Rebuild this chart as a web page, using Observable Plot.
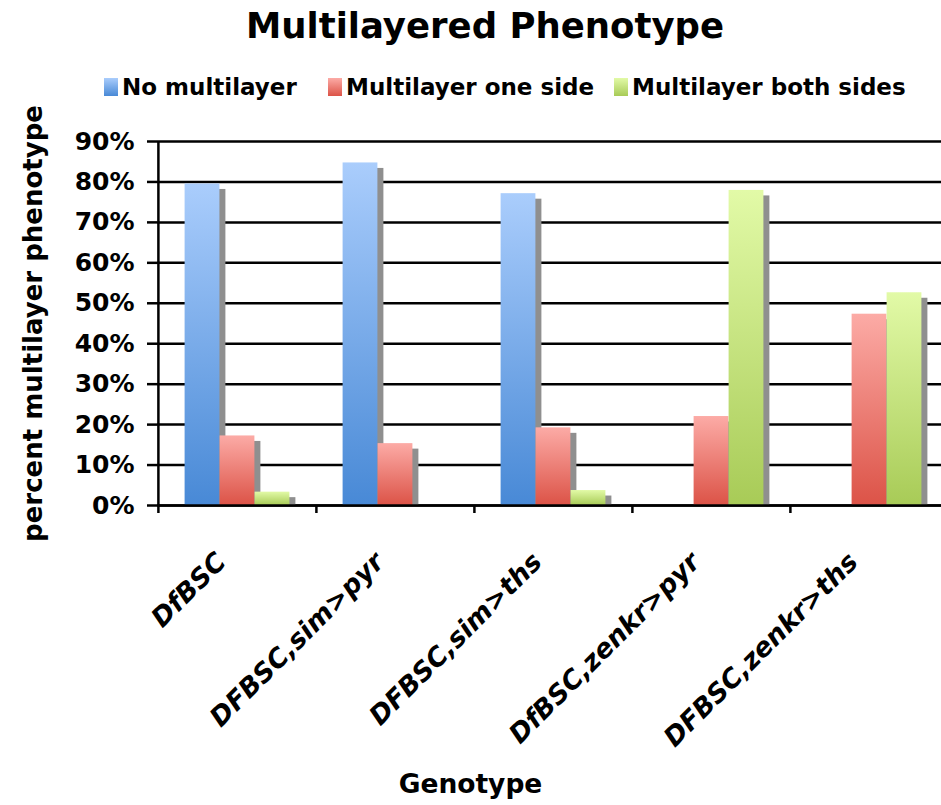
<!DOCTYPE html>
<html>
<head>
<meta charset="utf-8">
<script src="https://cdn.jsdelivr.net/npm/d3@7"></script>
<script src="https://cdn.jsdelivr.net/npm/@observablehq/plot@0.6"></script>
<style>
  html, body { margin: 0; padding: 0; background: white; }
  body { width: 941px; height: 805px; position: relative; overflow: hidden; font-family: "DejaVu Sans", sans-serif; }
  #title { position: absolute; left: 0; width: 970px; top: 4px; text-align: center; font-weight: bold; font-size: 35.5px; line-height: 44px; color: black; }
  .leg { position: absolute; top: 74px; height: 26px; display: flex; align-items: center; font-weight: bold; font-size: 23px; color: black; white-space: nowrap; }
  .sw { width: 14px; height: 18px; margin-right: 4px; }
  #chart { position: absolute; left: 0; top: 110px; }
</style>
</head>
<body>
<div id="title">Multilayered Phenotype</div>
<div id="legend"></div>
<div id="chart"></div>
<script>
const genotypes = ["DfBSC", "DFBSC,sim>pyr", "DFBSC,sim>ths", "DfBSC,zenkr>pyr", "DFBSC,zenkr>ths"];
const seriesNames = ["No multilayer", "Multilayer one side", "Multilayer both sides"];
const noMultilayer = [0.795, 0.847, 0.771, 0, 0];
const oneSide = [0.172, 0.153, 0.192, 0.220, 0.473];
const bothSides = [0.033, 0, 0.037, 0.779, 0.526];
const yTicks = [0, 0.1, 0.2, 0.3, 0.4, 0.5, 0.6, 0.7, 0.8, 0.9];
const yLabel = "percent multilayer phenotype";
const xLabel = "Genotype";

const gradients = [
  {id: "g-blue", top: "#aacdfc", bottom: "#4889d6"},
  {id: "g-red", top: "#fcaba6", bottom: "#dc5347"},
  {id: "g-green", top: "#e2faa7", bottom: "#a8cb57"}
];
const legendLeft = [104, 328, 614];

// legend
const legend = document.getElementById("legend");
seriesNames.forEach((name, k) => {
  const item = document.createElement("div");
  item.className = "leg";
  item.style.left = legendLeft[k] + "px";
  item.innerHTML = `<div class="sw" style="background:linear-gradient(${gradients[k].top},${gradients[k].bottom})"></div><span>${name}</span>`;
  legend.appendChild(item);
});

const seriesValues = [noMultilayer, oneSide, bothSides];
const rows = seriesValues.map(vals => genotypes.map((g, i) => ({g, v: vals[i]})));

const bandStep = (948 - 157) / genotypes.length;
const barW = 35;
const inset = (bandStep - barW) / 2;
const offsets = [-barW, 0, barW];

const shadowMarks = rows.map((data, k) => Plot.barY(data, {
  x: "g", y: "v", filter: d => d.v > 0,
  fill: "#8f8f8f", insetLeft: inset, insetRight: inset, insetTop: 5.5, dx: offsets[k] + 6
}));
const barMarks = rows.map((data, k) => Plot.barY(data, {
  x: "g", y: "v", filter: d => d.v > 0,
  fill: `url(#${gradients[k].id})`, insetLeft: inset, insetRight: inset, dx: offsets[k]
}));

const chart = Plot.plot({
  width: 941,
  height: 695,
  marginTop: 31,
  marginBottom: 300,
  marginLeft: 157,
  marginRight: 0,
  style: {fontFamily: "DejaVu Sans, sans-serif", background: "white", color: "black", overflow: "visible"},
  x: {domain: genotypes, range: [157, 948], padding: 0, axis: null, label: null},
  y: {domain: [0, 0.9], axis: null, label: null},
  marks: [
    Plot.ruleY(yTicks, {stroke: "black", strokeWidth: 2.5}),
    ...shadowMarks,
    ...barMarks,
    Plot.ruleY([0], {stroke: "black", strokeWidth: 2.5}),
    Plot.ruleX([genotypes[0]], {dx: -bandStep / 2, stroke: "black", strokeWidth: 2.5}),
    Plot.axisX(genotypes, {text: null, label: null, tickSize: 8, dx: -bandStep / 2, stroke: "black", strokeWidth: 2.5}),
    Plot.axisY(yTicks, {
      label: null, tickFormat: d3.format(".0%"), tickSize: 10, tickPadding: 13,
      fontSize: 25, fontWeight: "bold", stroke: "black", strokeWidth: 2.5, fill: "black"
    }),
    Plot.text(genotypes, {
      x: d => d, frameAnchor: "bottom", dx: -10, dy: 58, rotate: -45,
      textAnchor: "end", lineAnchor: "bottom",
      fontSize: 26.5, fontWeight: "bold", fontStyle: "italic", fill: "black"
    }),
    Plot.text([yLabel], {
      frameAnchor: "left", dx: -124, rotate: -90, textAnchor: "middle", lineAnchor: "middle",
      fontSize: 26, fontWeight: "bold", fill: "black"
    }),
    Plot.text([xLabel], {
      frameAnchor: "bottom", dx: -79, dy: 287, textAnchor: "middle", lineAnchor: "bottom",
      fontSize: 26.5, fontWeight: "bold", fill: "black"
    })
  ]
});

const defs = d3.select(chart).insert("defs", ":first-child");
gradients.forEach(gr => {
  const lg = defs.append("linearGradient").attr("id", gr.id)
    .attr("x1", 0).attr("y1", 0).attr("x2", 0).attr("y2", 1);
  lg.append("stop").attr("offset", "0%").attr("stop-color", gr.top);
  lg.append("stop").attr("offset", "100%").attr("stop-color", gr.bottom);
});

document.getElementById("chart").appendChild(chart);
</script>
</body>
</html>
